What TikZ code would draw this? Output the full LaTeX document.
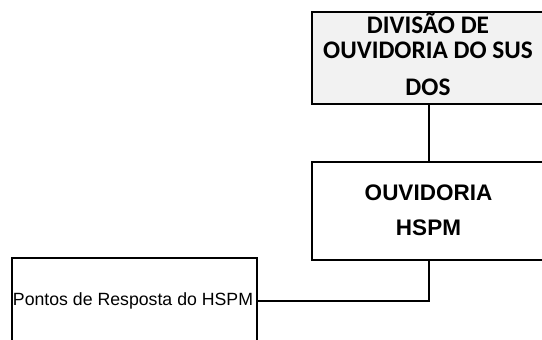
\documentclass[tikz,border=0pt]{standalone}
\usepackage{fontspec}
\setmainfont{Liberation Sans}
\newfontfamily\carlito{Carlito}
\definecolor{boxgray}{HTML}{F2F2F2}
\begin{document}
\begin{tikzpicture}[x=1pt,y=-1pt,
  box/.style={draw=black, line width=1.8pt, inner sep=0pt, anchor=north west},
  conn/.style={draw=black, line width=1.8pt},
  titlefont/.style={font=\carlito\bfseries\fontsize{25.3}{25.3}\selectfont, anchor=base, inner sep=0pt},
  midfont/.style={font=\bfseries\fontsize{22.5}{22.5}\selectfont, anchor=base, inner sep=0pt}]
\useasboundingbox (0,0) rectangle (542,340);
\clip (0,0) rectangle (542,340);
\fill[white] (0,0) rectangle (542,340);
% boxes
\node[box, fill=boxgray, minimum width=234pt, minimum height=92pt] (div) at (311,11) {};
\node[box, fill=white, minimum width=234pt, minimum height=98pt] (ouv) at (311,161) {};
\node[box, fill=white, minimum width=245pt, minimum height=86pt] (pts) at (11,257) {};
% texts
\node[titlefont] (t1) at (428,34) {DIVISÃO DE};
\node[titlefont] (t2) at (428,59) {OUVIDORIA DO SUS};
\node[titlefont] (t3) at (428,95.5) {DOS};
\node[midfont] (m1) at (428.5,200) {OUVIDORIA};
\node[midfont] (m2) at (428.5,235) {HSPM};
\node[font=\fontsize{17.7}{17.7}\selectfont, anchor=base, inner sep=0pt] (p1) at (133,305) {Pontos de Resposta do HSPM};
% connectors
\draw[conn] (div.south) -- (ouv.north);
\draw[conn] (ouv.south) |- (pts.east);
\end{tikzpicture}
\end{document}
